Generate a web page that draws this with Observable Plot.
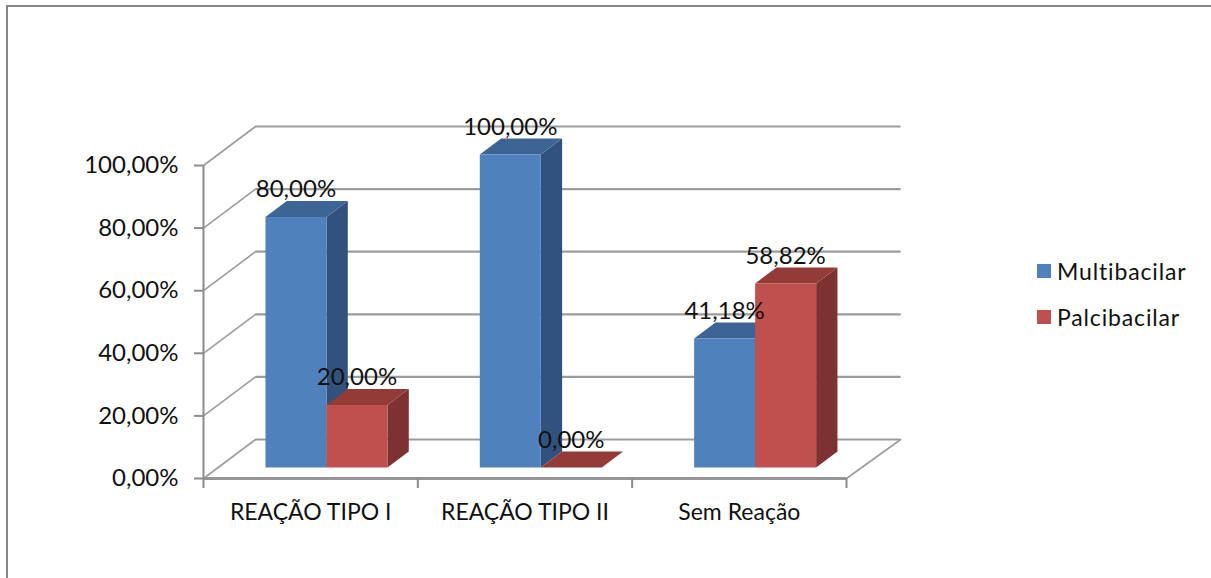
<!DOCTYPE html>
<html lang="pt">
<head>
<meta charset="utf-8">
<script src="https://cdn.jsdelivr.net/npm/d3@7"></script>
<script src="https://cdn.jsdelivr.net/npm/@observablehq/plot@0.6"></script>
<style>
html,body{margin:0;padding:0;background:#fff;width:1211px;height:578px;overflow:hidden}
#wrap{position:relative;width:1211px;height:578px;font-family:Lato,sans-serif;color:#111}
#border{position:absolute;left:6px;top:5px;right:0;bottom:0;border-left:2.5px solid #868686;border-top:2.5px solid #868686;pointer-events:none}
#chart{position:absolute;left:0;top:0}
.lg{position:absolute;left:1037px;display:flex;align-items:center;font-size:23px;letter-spacing:0.85px;line-height:24px}
.lg i{display:block;width:14px;height:14px;margin-right:6px}
</style>
</head>
<body>
<div id="wrap"><div id="border"></div><div id="chart"></div>
<div class="lg" style="top:259px"><i style="background:#4f81bd"></i><span>Multibacilar</span></div>
<div class="lg" style="top:305px"><i style="background:#c0504d"></i><span>Palcibacilar</span></div>
</div>
<script>
const categories = ["REAÇÃO TIPO I", "REAÇÃO TIPO II", "Sem Reação"];
const multibacilar = [80, 100, 41.18];
const palcibacilar = [20, 0, 58.82];
const yTicks = [0, 20, 40, 60, 80, 100];
const xTicks = [0, 1, 2, 3];

// depth of the oblique projection, in data units of x and y for z = 1
const depthX = 0.2426, depthY = 12.46;
const barZ0 = 0.282, barZ1 = 0.692, barStart = 0.2207, barWidth = 0.2846;
const wallEnd = 3.01;
const px = (x, z) => x + depthX * z;
const py = (y, z) => y + depthY * z;
const pct = v => v.toFixed(2).replace(".", ",") + "%";

const seriesDefs = [
  {name: "Multibacilar", values: multibacilar, slot: 0, front: "#4f81bd", side: "#30527c", top: "#3c6494"},
  {name: "Palcibacilar", values: palcibacilar, slot: 1, front: "#c0504d", side: "#7b3230", top: "#943a37"}
];

const faces = [];
const labels = [];
seriesDefs.forEach(s => s.values.forEach((v, i) => {
  const x0 = i + barStart + s.slot * barWidth, x1 = x0 + barWidth;
  const add = (id, color, pts) => pts.forEach(([x, y, z]) =>
    faces.push({id: `${s.name}-${i}-${id}`, color, x: px(x, z), y: py(y, z)}));
  add("side", s.side, [[x1,0,barZ0],[x1,0,barZ1],[x1,v,barZ1],[x1,v,barZ0]]);
  add("top", s.top, [[x0,v,barZ0],[x0,v,barZ1],[x1,v,barZ1],[x1,v,barZ0]]);
  add("front", s.front, [[x0,0,barZ0],[x0,v,barZ0],[x1,v,barZ0],[x1,0,barZ0]]);
  labels.push({x: px((x0 + x1) / 2, barZ0), y: py(v, barZ0), text: pct(v)});
}));

const wallLines = yTicks.map(t => ({t, x1: 0, x2: wallEnd}));
const diagonals = yTicks.flatMap(t => [{id: t, x: 0, y: t}, {id: t, x: px(0, 1), y: py(t, 1)}]);
const floorRight = [{x: 3, y: 0}, {x: px(wallEnd, 1), y: py(0, 1)}];

const grey = "#9c9c9c";
const plot = Plot.plot({
  width: 1211, height: 578,
  marginLeft: 203, marginRight: 365, marginTop: 165, marginBottom: 100,
  x: {domain: [0, 3]},
  y: {domain: [0, 100]},
  color: {type: "identity"},
  style: {fontFamily: "Lato, sans-serif", color: "#111", background: "transparent", overflow: "visible"},
  marks: [
    Plot.link(wallLines, {x1: d => px(d.x1, 1), x2: d => d.x2 + depthX, y1: d => py(d.t, 1), y2: d => py(d.t, 1), stroke: grey, strokeWidth: 2.2}),
    Plot.line(diagonals, {x: "x", y: "y", z: "id", stroke: grey, strokeWidth: 1.6}),
    Plot.line(floorRight, {x: "x", y: "y", stroke: grey, strokeWidth: 1.6}),
    Plot.ruleX([0], {y1: 0, y2: 100, stroke: "#8c8c8c", strokeWidth: 2}),
    Plot.ruleY([0], {x1: 0, x2: 3, stroke: "#969696", strokeWidth: 3}),
    Plot.axisY({ticks: yTicks, tickSize: 9, tickPadding: 16, tickFormat: pct, stroke: "#8c8c8c", strokeWidth: 2, fontSize: 24, fill: "#111", label: null}),
    Plot.axisX({ticks: xTicks, tickSize: 10, tickFormat: () => "", stroke: "#8c8c8c", strokeWidth: 2, label: null}),
    Plot.line(faces, {x: "x", y: "y", z: "id", fill: "color", stroke: null}),
    Plot.text(labels, {x: "x", y: "y", text: "text", dy: -27.5, fontSize: 24, fill: "#111"}),
    Plot.text(categories, {x: (d, i) => i + 0.5, y: () => 0, text: d => d, dy: 34, fontSize: 23, fill: "#111"})
  ]
});
document.getElementById("chart").appendChild(plot);
</script>
</body>
</html>
